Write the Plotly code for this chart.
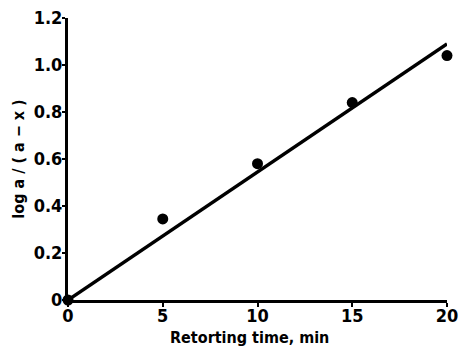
import plotly.graph_objects as go

time_min = [0, 5, 10, 15, 20]
log_ratio = [0.0, 0.345, 0.58, 0.84, 1.04]
fit_x = [0, 20]
fit_y = [0.0, 1.09]
y_ticks = [0, 0.2, 0.4, 0.6, 0.8, 1.0, 1.2]
y_tick_text = ["0", "0.2", "0.4", "0.6", "0.8", "1.0", "1.2"]
x_ticks = [0, 5, 10, 15, 20]
x_title = "Retorting time, min"
y_title = "log a / ( a − x )"

font_family = "DejaVu Sans Condensed, Liberation Sans Narrow, sans-serif"

fig = go.Figure()
fig.add_trace(go.Scatter(x=fit_x, y=fit_y, mode="lines",
                         line=dict(color="black", width=3.5), showlegend=False, cliponaxis=False))
fig.add_trace(go.Scatter(x=time_min, y=log_ratio, mode="markers",
                         marker=dict(color="black", size=11), showlegend=False, cliponaxis=False))

fig.update_layout(
    width=459, height=355,
    margin=dict(l=68, r=12, t=18, b=55),
    paper_bgcolor="white", plot_bgcolor="white",
    font=dict(family=font_family, color="black", size=16),
)
fig.add_annotation(
    text=x_title, xref="paper", yref="paper", x=0.478, y=-0.132,
    xanchor="center", yanchor="middle", showarrow=False,
    font=dict(size=16, weight="bold", family=font_family),
)
fig.update_xaxes(
    range=[0, 20], tickvals=x_ticks, ticks="outside", ticklen=4, tickwidth=2,
    tickcolor="black", showline=True, linecolor="black", linewidth=3,
    showgrid=False, zeroline=False, automargin=False,
    tickfont=dict(size=18, family=font_family, weight="bold"), ticklabelstandoff=-7,
)
fig.update_yaxes(
    range=[0, 1.2], tickvals=y_ticks, ticktext=y_tick_text, ticks="outside", ticklen=3,
    tickwidth=2, tickcolor="black", showline=True, linecolor="black", linewidth=3,
    showgrid=False, zeroline=False, automargin=False,
    tickfont=dict(size=18, family=font_family, weight="bold"), ticklabelstandoff=-4,
    title=dict(text=y_title, font=dict(size=16, weight="bold"), standoff=6),
)
fig.write_html("out.html", config={"displayModeBar": False},
               post_script="document.body.style.margin='0';document.body.style.padding='0';")
